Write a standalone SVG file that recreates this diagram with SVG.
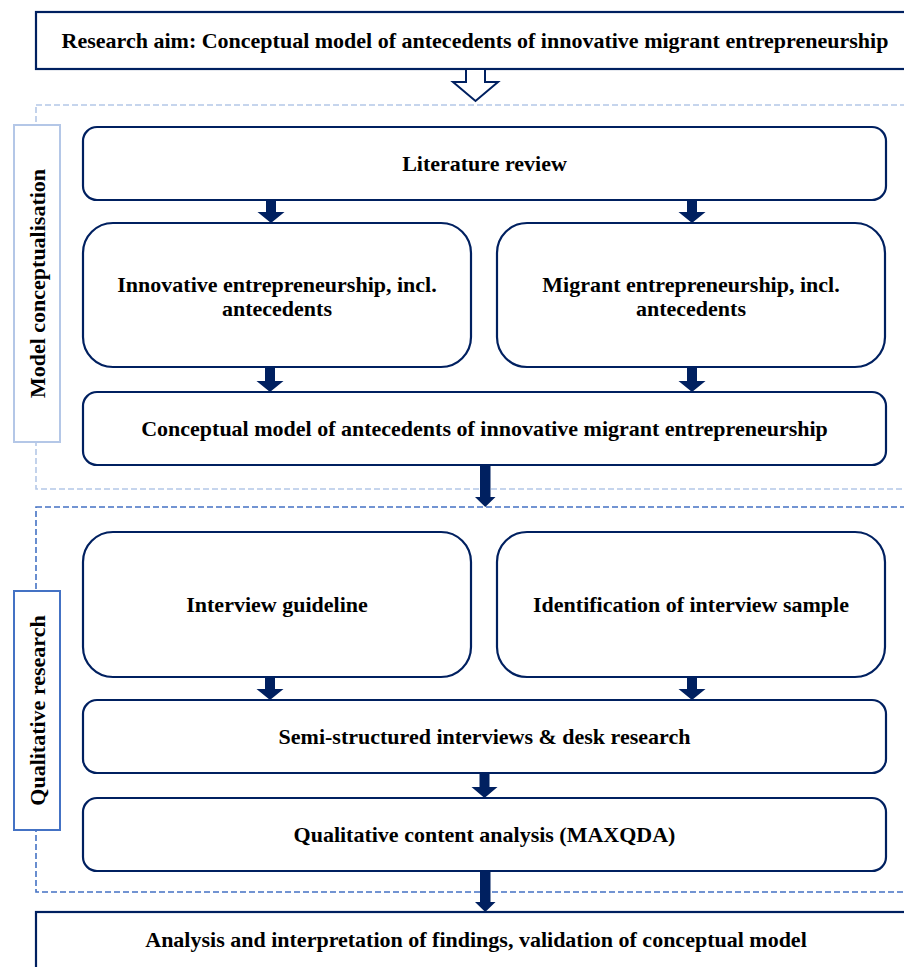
<svg xmlns="http://www.w3.org/2000/svg" width="904" height="967" viewBox="0 0 904 967">
<style>
.box{fill:#fff;stroke:#002060;stroke-width:2.2}
.t{font-family:"Liberation Serif","Times New Roman",serif;font-weight:bold;font-size:22px;fill:#000;text-anchor:middle}
.arr{fill:#002060}
.dl{fill:none;stroke:#b4c7e7;stroke-width:1.6;stroke-dasharray:6 3}
.dq{fill:none;stroke:#4472c4;stroke-width:1.6;stroke-dasharray:6 3}
</style>
<rect width="904" height="967" fill="#fff"/>
<g id="region-model">
<rect class="dl" x="36" y="105" width="880" height="384"/>
</g>
<g id="region-qual">
<rect class="dq" x="36" y="507" width="880" height="385"/>
</g>
<g id="label-model">
<rect x="14" y="125" width="46" height="317" fill="#fff" stroke="#b4c7e7" stroke-width="2"/>
<text class="t" transform="translate(37,283.5) rotate(-90)" x="0" y="7.5">Model conceptualisation</text>
</g>
<g id="label-qual">
<rect x="14" y="591" width="46" height="239" fill="#fff" stroke="#4472c4" stroke-width="2"/>
<text class="t" transform="translate(37,710.5) rotate(-90)" x="0" y="7.5">Qualitative research</text>
</g>
<g id="aim">
<rect class="box" x="36" y="12" width="880" height="57"/>
<text class="t" x="475" y="48">Research aim: Conceptual model of antecedents of innovative migrant entrepreneurship</text>
</g>
<g id="lit">
<rect class="box" x="83" y="127" width="803" height="73" rx="14"/>
<text class="t" x="484.5" y="171">Literature review</text>
</g>
<g id="innov">
<rect class="box" x="83" y="223" width="388" height="144" rx="30"/>
<text class="t" x="277" y="292">Innovative entrepreneurship, incl.</text>
<text class="t" x="277" y="316">antecedents</text>
</g>
<g id="migr">
<rect class="box" x="497" y="223" width="388" height="144" rx="30"/>
<text class="t" x="691" y="292">Migrant entrepreneurship, incl.</text>
<text class="t" x="691" y="316">antecedents</text>
</g>
<g id="concept">
<rect class="box" x="83" y="392" width="803" height="73" rx="14"/>
<text class="t" x="484.5" y="436">Conceptual model of antecedents of innovative migrant entrepreneurship</text>
</g>
<g id="guide">
<rect class="box" x="83" y="532" width="388" height="145" rx="30"/>
<text class="t" x="277" y="612">Interview guideline</text>
</g>
<g id="sample">
<rect class="box" x="497" y="532" width="388" height="145" rx="30"/>
<text class="t" x="691" y="612">Identification of interview sample</text>
</g>
<g id="semi">
<rect class="box" x="83" y="700" width="803" height="73" rx="14"/>
<text class="t" x="484.5" y="744">Semi-structured interviews &amp; desk research</text>
</g>
<g id="qca">
<rect class="box" x="83" y="798" width="803" height="73" rx="14"/>
<text class="t" x="484.5" y="842">Qualitative content analysis (MAXQDA)</text>
</g>
<g id="final">
<rect class="box" x="36" y="912" width="880" height="80"/>
<text class="t" x="476" y="947">Analysis and interpretation of findings, validation of conceptual model</text>
</g>
<g id="connectors">
<path d="M466,69 L485,69 L485,82 L498,82 L475.5,101 L453,82 L466,82 Z" fill="#fff" stroke="#002060" stroke-width="2"/>
<path class="arr" d="M266,201 h10 v11 h8.5 l-13.5,11 l-13.5,-11 h8.5 Z"/>
<path class="arr" d="M687,201 h10 v11 h8.5 l-13.5,11 l-13.5,-11 h8.5 Z"/>
<path class="arr" d="M265,368 h10 v13 h8.5 l-13.5,11 l-13.5,-11 h8.5 Z"/>
<path class="arr" d="M687,368 h10 v13 h8.5 l-13.5,11 l-13.5,-11 h8.5 Z"/>
<path class="arr" d="M480,466 h10.5 v31 h5 l-10.25,10 l-10.25,-10 h5 Z"/>
<path class="arr" d="M265,678 h10 v11 h8.5 l-13.5,11 l-13.5,-11 h8.5 Z"/>
<path class="arr" d="M687,678 h10 v11 h8.5 l-13.5,11 l-13.5,-11 h8.5 Z"/>
<path class="arr" d="M479.5,774 h10 v13 h8 l-13,11 l-13,-11 h8 Z"/>
<path class="arr" d="M480,872 h10.5 v30 h5 l-10.25,10 l-10.25,-10 h5 Z"/>
</g>
</svg>
